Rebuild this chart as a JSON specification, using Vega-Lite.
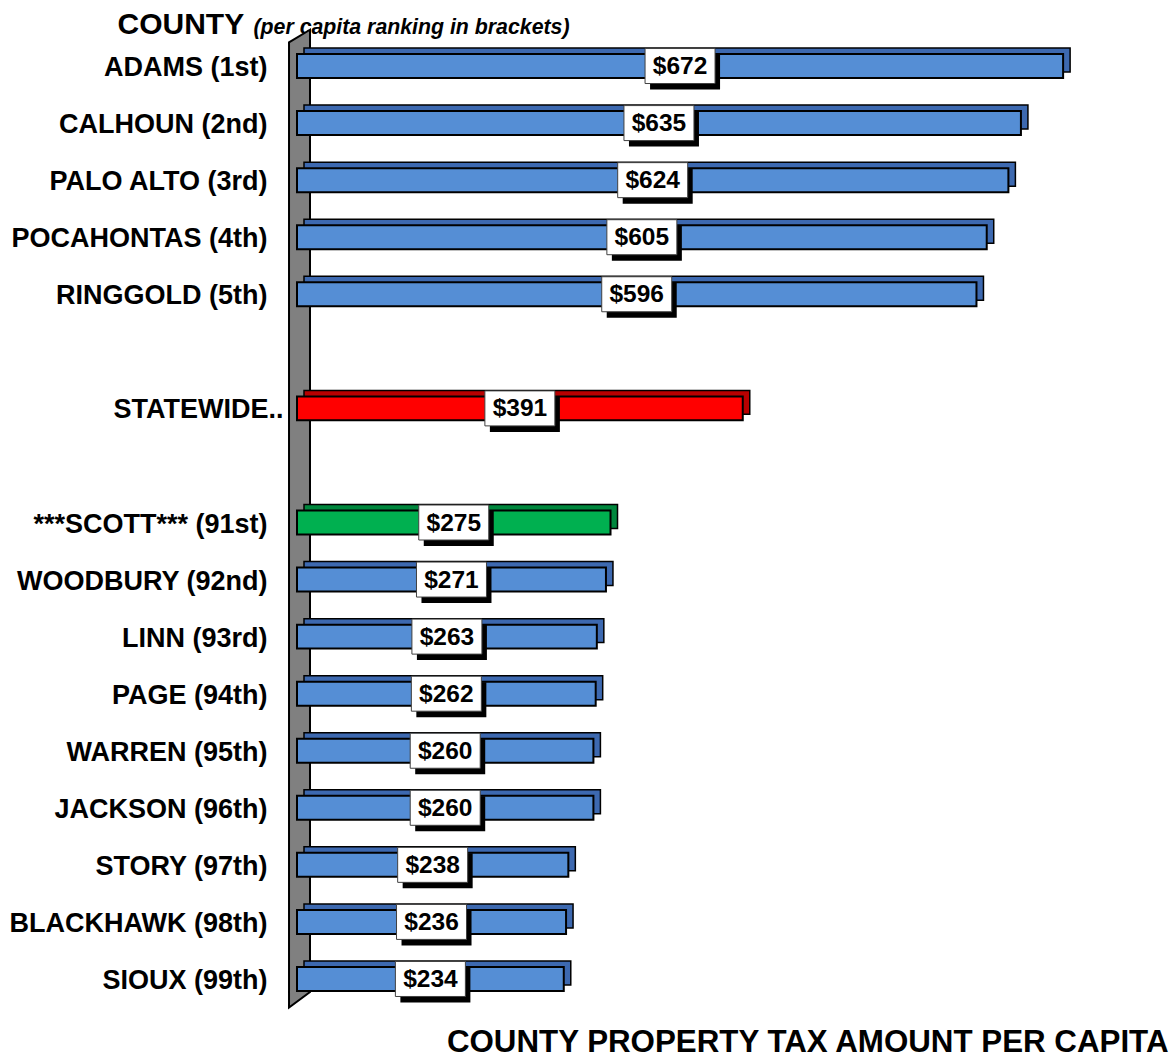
{
  "$schema": "https://vega.github.io/schema/vega-lite/v6.json",
  "width": 871,
  "height": 970,
  "autosize": "none",
  "padding": {"left": 297, "top": 37.5, "right": 5, "bottom": 51.5},
  "background": "white",
  "config": {
    "font": "Liberation Sans",
    "view": {"stroke": null}
  },
  "datasets": {
    "rows": [
      {"county": "ADAMS (1st)", "value": 672, "kind": "county"},
      {"county": "CALHOUN (2nd)", "value": 635, "kind": "county"},
      {"county": "PALO ALTO (3rd)", "value": 624, "kind": "county"},
      {"county": "POCAHONTAS (4th)", "value": 605, "kind": "county"},
      {"county": "RINGGOLD (5th)", "value": 596, "kind": "county"},
      {"county": "STATEWIDE..", "value": 391, "kind": "state"},
      {"county": "***SCOTT*** (91st)", "value": 275, "kind": "scott"},
      {"county": "WOODBURY (92nd)", "value": 271, "kind": "county"},
      {"county": "LINN (93rd)", "value": 263, "kind": "county"},
      {"county": "PAGE (94th)", "value": 262, "kind": "county"},
      {"county": "WARREN (95th)", "value": 260, "kind": "county"},
      {"county": "JACKSON (96th)", "value": 260, "kind": "county"},
      {"county": "STORY (97th)", "value": 238, "kind": "county"},
      {"county": "BLACKHAWK (98th)", "value": 236, "kind": "county"},
      {"county": "SIOUX (99th)", "value": 234, "kind": "county"}
    ],
    "wall": [
      {"wy": -0.008, "left": 11.4, "right": 11.4},
      {"wy": 0.005, "left": -7, "right": 11.4},
      {"wy": 0.984, "left": -7, "right": 11.4},
      {"wy": 1.0, "left": -7, "right": -7}
    ]
  },
  "resolve": {"scale": {"x": "independent", "y": "independent", "color": "independent"}},
  "layer": [
    {
      "data": {"name": "wall"},
      "mark": {"type": "area", "orient": "horizontal", "fill": "#808080", "stroke": "black", "strokeWidth": 2, "clip": false},
      "encoding": {
        "y": {"field": "wy", "type": "quantitative", "scale": {"domain": [0, 1], "reverse": true, "nice": false, "zero": false}, "axis": null, "sort": null},
        "x": {"field": "left", "type": "quantitative", "scale": {"domain": [0, 764], "nice": false}, "axis": null},
        "x2": {"field": "right"}
      }
    },
    {
      "data": {"name": "rows"},
      "mark": {"type": "bar", "height": {"band": 0.42}, "xOffset": 7, "yOffset": -6, "stroke": "black", "strokeWidth": 1.5},
      "encoding": {
        "y": {"field": "county", "type": "nominal", "sort": null,
              "scale": {"domain": ["ADAMS (1st)", "CALHOUN (2nd)", "PALO ALTO (3rd)", "POCAHONTAS (4th)", "RINGGOLD (5th)", " ", "STATEWIDE..", "  ", "***SCOTT*** (91st)", "WOODBURY (92nd)", "LINN (93rd)", "PAGE (94th)", "WARREN (95th)", "JACKSON (96th)", "STORY (97th)", "BLACKHAWK (98th)", "SIOUX (99th)"], "paddingInner": 0, "paddingOuter": 0},
              "axis": null},
        "x": {"field": "value", "type": "quantitative", "scale": {"domain": [0, 764], "nice": false}, "axis": null},
        "color": {"field": "kind", "type": "nominal", "scale": {"domain": ["county", "state", "scott"], "range": ["#3D69B0", "#B80000", "#00873D"]}, "legend": null}
      }
    },
    {
      "data": {"name": "rows"},
      "mark": {"type": "bar", "height": {"band": 0.42}, "stroke": "black", "strokeWidth": 2},
      "encoding": {
        "y": {"field": "county", "type": "nominal", "sort": null,
              "scale": {"domain": ["ADAMS (1st)", "CALHOUN (2nd)", "PALO ALTO (3rd)", "POCAHONTAS (4th)", "RINGGOLD (5th)", " ", "STATEWIDE..", "  ", "***SCOTT*** (91st)", "WOODBURY (92nd)", "LINN (93rd)", "PAGE (94th)", "WARREN (95th)", "JACKSON (96th)", "STORY (97th)", "BLACKHAWK (98th)", "SIOUX (99th)"], "paddingInner": 0, "paddingOuter": 0},
              "axis": {
                "title": "COUNTY", "titleAngle": 0, "titleAlign": "left", "titleBaseline": "alphabetic",
                "titleX": -180, "titleY": -4.5, "titleFontSize": 30, "titleFontWeight": "bold", "titleColor": "black",
                "labelFontSize": 27, "labelFontWeight": "bold", "labelColor": "black", "labelLimit": 400,
                "labelPadding": {"condition": {"test": "datum.value === 'STATEWIDE..'", "value": 14}, "value": 30},
                "labelOffset": 2,
                "ticks": false, "domain": false, "grid": false
              }},
        "x": {"field": "value", "type": "quantitative", "scale": {"domain": [0, 764], "nice": false},
              "axis": {
                "orient": "bottom", "title": "COUNTY PROPERTY TAX AMOUNT PER CAPITA",
                "labels": false, "ticks": false, "domain": false, "grid": false,
                "titleX": 871, "titleY": 43.5, "titleAlign": "right", "titleBaseline": "alphabetic", "titleAnchor": null,
                "titleFontSize": 31.3, "titleFontWeight": "bold", "titleColor": "black"
              }},
        "color": {"field": "kind", "type": "nominal", "scale": {"domain": ["county", "state", "scott"], "range": ["#558ED5", "#FF0000", "#00B050"]}, "legend": null}
      }
    },
    {
      "data": {"name": "rows"},
      "mark": {"type": "point", "shape": "M-1,-0.5L1,-0.5L1,0.5L-1,0.5Z", "size": 4900, "filled": true, "color": "black", "opacity": 1, "strokeWidth": 0, "xOffset": 5, "yOffset": 6},
      "encoding": {
        "y": {"field": "county", "type": "nominal", "sort": null,
              "scale": {"domain": ["ADAMS (1st)", "CALHOUN (2nd)", "PALO ALTO (3rd)", "POCAHONTAS (4th)", "RINGGOLD (5th)", " ", "STATEWIDE..", "  ", "***SCOTT*** (91st)", "WOODBURY (92nd)", "LINN (93rd)", "PAGE (94th)", "WARREN (95th)", "JACKSON (96th)", "STORY (97th)", "BLACKHAWK (98th)", "SIOUX (99th)"], "paddingInner": 0, "paddingOuter": 0},
              "axis": null},
        "x": {"field": "value", "type": "quantitative", "scale": {"domain": [0, 1528], "nice": false},
              "axis": {
                "orient": "top", "title": "(per capita ranking in brackets)",
                "labels": false, "ticks": false, "domain": false, "grid": false,
                "titleX": -44, "titleY": -4.5, "titleAlign": "left", "titleBaseline": "alphabetic", "titleAnchor": null,
                "titleFontSize": 21.3, "titleFontWeight": "bold", "titleFontStyle": "italic", "titleColor": "black"
              }}
      }
    },
    {
      "data": {"name": "rows"},
      "mark": {"type": "point", "shape": "M-1,-0.5L1,-0.5L1,0.5L-1,0.5Z", "size": 4900, "filled": true, "fill": "white", "opacity": 1, "stroke": "#404040", "strokeWidth": 1},
      "encoding": {
        "y": {"field": "county", "type": "nominal", "sort": null,
              "scale": {"domain": ["ADAMS (1st)", "CALHOUN (2nd)", "PALO ALTO (3rd)", "POCAHONTAS (4th)", "RINGGOLD (5th)", " ", "STATEWIDE..", "  ", "***SCOTT*** (91st)", "WOODBURY (92nd)", "LINN (93rd)", "PAGE (94th)", "WARREN (95th)", "JACKSON (96th)", "STORY (97th)", "BLACKHAWK (98th)", "SIOUX (99th)"], "paddingInner": 0, "paddingOuter": 0},
              "axis": null},
        "x": {"field": "value", "type": "quantitative", "scale": {"domain": [0, 1528], "nice": false}, "axis": null}
      }
    },
    {
      "data": {"name": "rows"},
      "mark": {"type": "text", "fontSize": 24.5, "fontWeight": "bold", "color": "black", "baseline": "middle", "align": "center", "dy": 1},
      "encoding": {
        "y": {"field": "county", "type": "nominal", "sort": null,
              "scale": {"domain": ["ADAMS (1st)", "CALHOUN (2nd)", "PALO ALTO (3rd)", "POCAHONTAS (4th)", "RINGGOLD (5th)", " ", "STATEWIDE..", "  ", "***SCOTT*** (91st)", "WOODBURY (92nd)", "LINN (93rd)", "PAGE (94th)", "WARREN (95th)", "JACKSON (96th)", "STORY (97th)", "BLACKHAWK (98th)", "SIOUX (99th)"], "paddingInner": 0, "paddingOuter": 0},
              "axis": null},
        "x": {"field": "value", "type": "quantitative", "scale": {"domain": [0, 1528], "nice": false}, "axis": null},
        "text": {"field": "value", "type": "quantitative", "format": "$d"}
      }
    }
  ]
}
